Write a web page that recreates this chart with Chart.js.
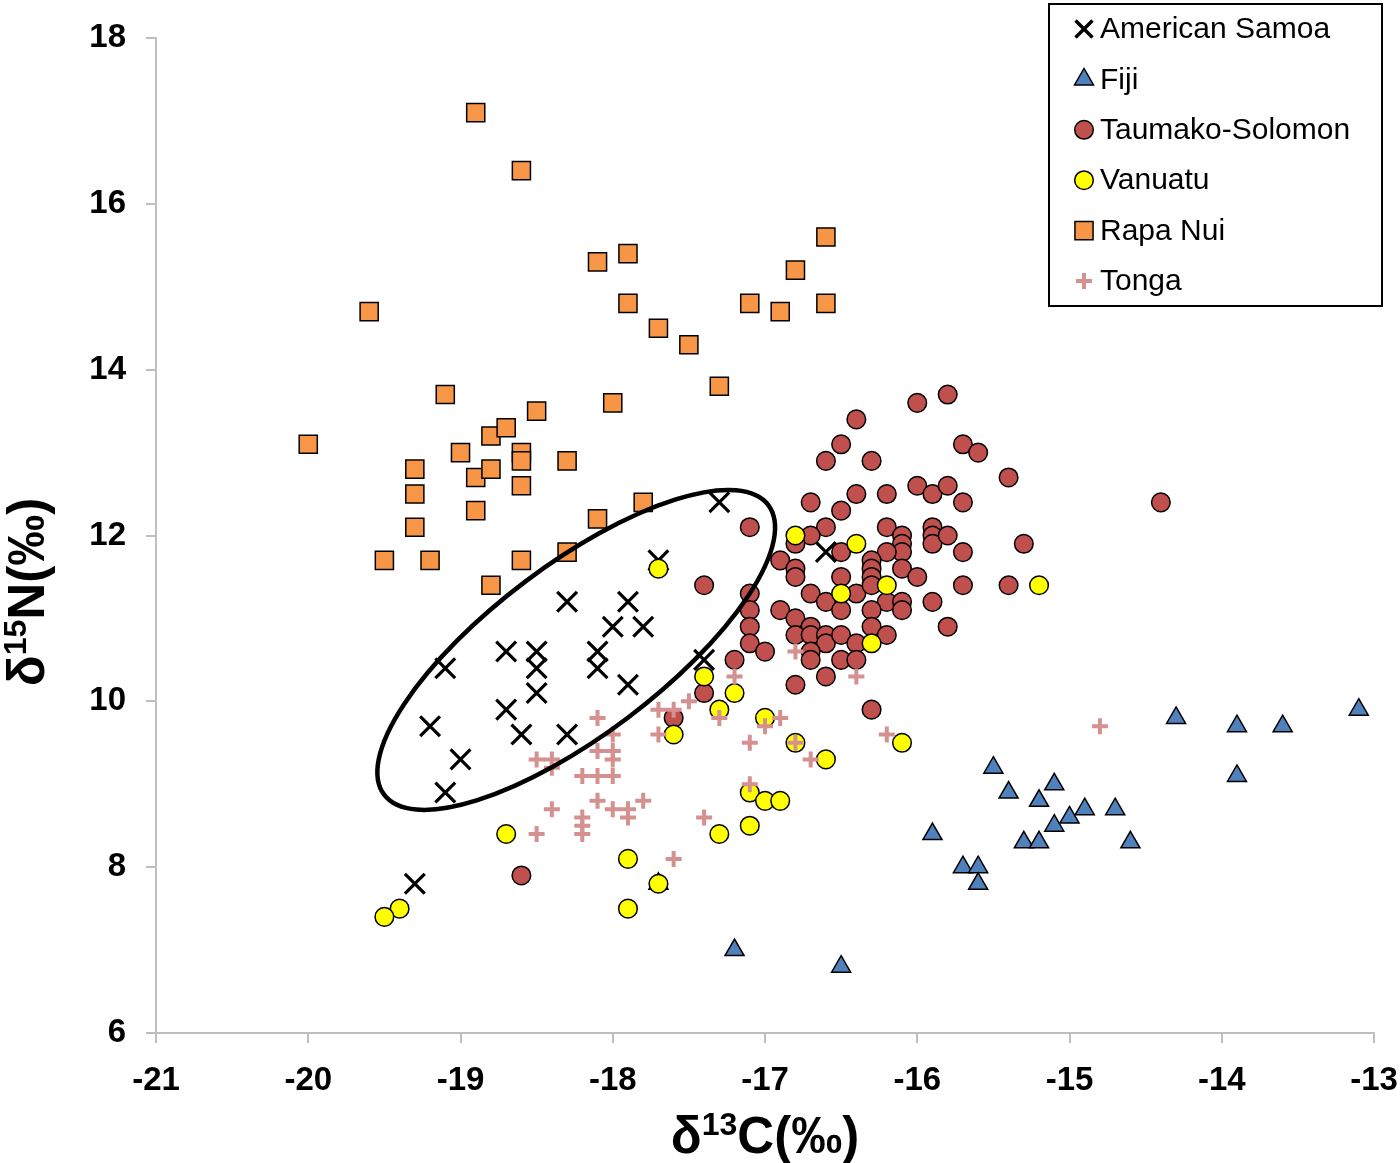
<!DOCTYPE html>
<html>
<head>
<meta charset="utf-8">
<script src="https://cdn.jsdelivr.net/npm/chart.js@4.4.1/dist/chart.umd.min.js"></script>
<style>
  html, body { margin: 0; padding: 0; background: #fff; }
</style>
</head>
<body>
<canvas id="chart" width="1400" height="1163"></canvas>
<script>
// series names, legend order
const seriesNames = ['American Samoa', 'Fiji', 'Taumako-Solomon', 'Vanuatu', 'Rapa Nui', 'Tonga'];

// [d13C, d15N]
const samoa = [[-17.3,12.4],[-17.7,11.7],[-16.6,11.8],[-18.3,11.2],[-17.9,11.2],[-18.0,10.9],[-17.8,10.9],
  [-18.7,10.6],[-18.5,10.6],[-18.5,10.4],[-18.1,10.6],[-18.1,10.4],[-19.1,10.4],[-17.4,10.5],[-18.5,10.1],
  [-17.9,10.2],[-18.7,9.9],[-19.2,9.7],[-18.6,9.6],[-18.3,9.6],[-19.0,9.3],[-19.1,8.9],[-19.3,7.8]];

const fiji = [[-14.3,9.8],[-13.9,9.7],[-13.6,9.7],[-13.1,9.9],[-13.9,9.1],[-15.5,9.2],[-15.4,8.9],[-15.1,9.0],
  [-15.2,8.8],[-14.9,8.7],[-15.0,8.6],[-14.7,8.7],[-15.1,8.5],[-15.3,8.3],[-15.2,8.3],[-14.6,8.3],[-15.9,8.4],
  [-15.7,8.0],[-15.6,8.0],[-15.6,7.8],[-17.2,7.0],[-16.5,6.8],[-17.7,7.8]];

const taumako = [[-15.8,13.7],[-16.0,13.6],[-16.4,13.4],[-16.5,13.1],[-15.7,13.1],[-15.6,13.0],[-16.6,12.9],
  [-16.3,12.9],[-15.4,12.7],[-16.0,12.6],[-15.9,12.5],[-15.8,12.6],[-16.4,12.5],[-16.2,12.5],[-16.7,12.4],
  [-15.7,12.4],[-16.5,12.3],[-17.1,12.1],[-16.6,12.1],[-16.2,12.1],[-16.1,12.0],[-15.9,12.1],[-15.9,12.0],
  [-15.9,11.9],[-15.8,12.0],[-16.7,12.0],[-16.8,11.9],[-16.1,11.9],[-16.1,11.8],[-16.5,11.8],[-16.2,11.8],
  [-15.7,11.8],[-15.3,11.9],[-16.9,11.7],[-16.3,11.7],[-16.3,11.6],[-16.8,11.6],[-16.8,11.5],[-16.1,11.6],
  [-16.0,11.5],[-16.5,11.5],[-16.3,11.5],[-15.7,11.4],[-15.4,11.4],[-16.4,11.3],[-16.7,11.3],[-16.3,11.4],
  [-17.4,11.4],[-17.1,11.3],[-16.6,11.2],[-16.5,11.1],[-16.2,11.2],[-16.1,11.2],[-16.1,11.1],[-15.9,11.2],
  [-17.1,11.1],[-16.9,11.1],[-16.3,11.1],[-16.8,11.0],[-17.1,10.9],[-16.7,10.9],[-16.8,10.8],[-16.7,10.8],
  [-16.6,10.8],[-16.6,10.7],[-16.5,10.8],[-16.4,10.7],[-16.3,10.9],[-16.2,10.8],[-15.8,10.9],[-17.1,10.7],
  [-17.0,10.6],[-16.7,10.6],[-16.7,10.5],[-16.5,10.5],[-16.4,10.5],[-17.2,10.5],[-16.6,10.3],[-16.8,10.2],
  [-17.4,10.1],[-16.3,9.9],[-17.6,9.8],[-14.4,12.4],[-18.6,7.9]];

const vanuatu = [[-16.8,12.0],[-16.4,11.9],[-16.5,11.3],[-16.2,11.4],[-16.3,10.7],[-15.2,11.4],[-17.7,11.6],
  [-17.4,10.3],[-17.6,9.6],[-17.2,10.1],[-17.3,9.9],[-17.0,9.8],[-16.8,9.5],[-16.6,9.3],[-16.1,9.5],
  [-17.1,8.9],[-17.0,8.8],[-16.9,8.8],[-17.1,8.5],[-17.3,8.4],[-17.9,8.1],[-17.7,7.8],[-18.7,8.4],
  [-17.9,7.5],[-19.4,7.5],[-19.5,7.4]];

const rapaNui = [[-18.9,17.1],[-18.6,16.4],[-19.6,14.7],[-20.0,13.1],[-18.1,15.3],[-17.9,15.4],[-17.9,14.8],
  [-17.7,14.5],[-17.5,14.3],[-17.3,13.8],[-17.1,14.8],[-16.9,14.7],[-16.8,15.2],[-16.6,15.6],[-16.6,14.8],
  [-19.1,13.7],[-19.3,12.8],[-19.3,12.5],[-19.3,12.1],[-19.5,11.7],[-19.2,11.7],[-19.0,13.0],[-18.9,12.7],
  [-18.9,12.3],[-18.8,13.2],[-18.8,12.8],[-18.7,13.3],[-18.8,11.4],[-18.5,13.5],[-18.6,13.0],[-18.6,12.9],
  [-18.6,12.6],[-18.6,11.7],[-18.3,12.9],[-18.3,11.8],[-18.1,12.2],[-18.0,13.6],[-17.8,12.4]];

const tonga = [[-18.1,9.8],[-18.0,9.6],[-18.5,9.3],[-18.4,9.3],[-18.4,9.2],[-18.1,9.4],[-18.0,9.4],[-18.0,9.3],
  [-18.2,9.1],[-18.1,9.1],[-18.0,9.1],[-18.1,8.8],[-18.0,8.7],[-17.9,8.7],[-17.9,8.6],[-17.8,8.8],[-18.4,8.7],
  [-18.2,8.6],[-18.2,8.5],[-18.2,8.4],[-18.5,8.4],[-17.6,8.1],[-17.7,9.6],[-17.6,9.9],[-17.7,9.9],[-17.5,10.0],
  [-17.4,8.6],[-17.3,9.8],[-17.0,9.7],[-16.9,9.8],[-17.1,9.5],[-16.8,9.5],[-16.2,9.6],[-16.7,9.3],[-17.1,9.0],
  [-16.8,10.6],[-17.2,10.3],[-16.4,10.3],[-14.8,9.7]];

const xTicks = [-21, -13, 1];   // min, max, step
const yTicks = [6, 18, 2];

// the hand-drawn ring: centre (data units), half-axes in x-units, tilt in degrees
const ring = { cx: -18.24, cy: 10.62, a: 1.58, b: 0.56, tilt: 37 };

const FONT = "'Liberation Sans', Arial, sans-serif";

const styles = [
  { pointStyle: 'crossRot', radius: 14, bg: '#000', border: '#000', bw: 3.2 },
  { pointStyle: 'triangle', radius: 11, bg: '#4F81BD', border: '#000', bw: 1.5 },
  { pointStyle: 'circle', radius: 9.3, bg: '#C0504D', border: '#000', bw: 1.5 },
  { pointStyle: 'circle', radius: 9.3, bg: '#FFFF00', border: '#000', bw: 1.5 },
  { pointStyle: 'rect', radius: 12.8, bg: '#F79646', border: '#000', bw: 1.5 },
  { pointStyle: 'cross', radius: 8, bg: '#D4918F', border: '#D4918F', bw: 4 }
];
const allData = [samoa, fiji, taumako, vanuatu, rapaNui, tonga];

const datasets = seriesNames.map((name, i) => ({
  label: name,
  data: allData[i].map(p => ({ x: p[0], y: p[1] })),
  pointStyle: styles[i].pointStyle,
  pointRadius: styles[i].radius,
  pointHoverRadius: styles[i].radius,
  backgroundColor: styles[i].bg,
  borderColor: styles[i].border,
  borderWidth: styles[i].bw,
  order: seriesNames.length - i   // later series sit on top, like the original
}));

function drawMarker(ctx, st, x, y) {
  const r = st.radius;
  ctx.save();
  ctx.fillStyle = st.bg;
  ctx.strokeStyle = st.border;
  ctx.lineWidth = st.bw;
  ctx.beginPath();
  if (st.pointStyle === 'circle') {
    ctx.arc(x, y, r, 0, Math.PI * 2);
    ctx.fill(); ctx.stroke();
  } else if (st.pointStyle === 'rect') {
    const s = r * Math.SQRT1_2;
    ctx.rect(x - s, y - s, 2 * s, 2 * s);
    ctx.fill(); ctx.stroke();
  } else if (st.pointStyle === 'triangle') {
    const w = r * Math.sin(Math.PI * 2 / 3);
    ctx.moveTo(x, y - r);
    ctx.lineTo(x + w, y + r / 2);
    ctx.lineTo(x - w, y + r / 2);
    ctx.closePath();
    ctx.fill(); ctx.stroke();
  } else if (st.pointStyle === 'crossRot') {
    const o = r * Math.SQRT1_2;
    ctx.moveTo(x - o, y - o); ctx.lineTo(x + o, y + o);
    ctx.moveTo(x - o, y + o); ctx.lineTo(x + o, y - o);
    ctx.stroke();
  } else {
    ctx.moveTo(x - r, y); ctx.lineTo(x + r, y);
    ctx.moveTo(x, y - r); ctx.lineTo(x, y + r);
    ctx.stroke();
  }
  ctx.restore();
}

// text with a raised part, e.g. δ + 15 + N(‰)
function supText(ctx, parts, x, y, size) {
  const big = `bold ${size}px ${FONT}`, small = `bold ${Math.round(size * 0.62)}px ${FONT}`;
  let w = 0;
  parts.forEach(p => { ctx.font = p[1] ? small : big; w += ctx.measureText(p[0]).width; });
  let cx = x - w / 2;
  ctx.textBaseline = 'alphabetic';
  ctx.textAlign = 'left';
  parts.forEach(p => {
    ctx.font = p[1] ? small : big;
    ctx.fillText(p[0], cx, p[1] ? y - size * 0.36 : y);
    cx += ctx.measureText(p[0]).width;
  });
}

const decorations = {
  id: 'decorations',
  afterDatasetsDraw(chart) {
    const ctx = chart.ctx, xs = chart.scales.x, ys = chart.scales.y;
    const unit = xs.getPixelForValue(-20) - xs.getPixelForValue(-21);
    ctx.save();
    ctx.lineWidth = 4.5;
    ctx.strokeStyle = '#000';
    ctx.beginPath();
    ctx.ellipse(xs.getPixelForValue(ring.cx), ys.getPixelForValue(ring.cy),
      ring.a * unit, ring.b * unit, -ring.tilt * Math.PI / 180, 0, Math.PI * 2);
    ctx.stroke();
    ctx.restore();
  },
  afterDraw(chart) {
    const ctx = chart.ctx, area = chart.chartArea;
    ctx.save();
    ctx.fillStyle = '#000';
    // axis titles
    supText(ctx, [['δ', false], ['13', true], ['C(‰)', false]], (area.left + area.right) / 2, 1153, 51);
    ctx.translate(44, 592);
    ctx.rotate(-Math.PI / 2);
    supText(ctx, [['δ', false], ['15', true], ['N(‰)', false]], 0, 0, 51);
    ctx.restore();

    // boxed legend, top right
    ctx.save();
    ctx.fillStyle = '#fff';
    ctx.fillRect(1049, 4, 333, 302);
    ctx.lineWidth = 2;
    ctx.strokeStyle = '#000';
    ctx.strokeRect(1049, 4, 333, 302);
    ctx.font = `30px ${FONT}`;
    ctx.fillStyle = '#000';
    ctx.textBaseline = 'middle';
    ctx.textAlign = 'left';
    seriesNames.forEach((name, i) => {
      const y = 29 + i * 50.4;
      const st = Object.assign({}, styles[i]);
      if (st.pointStyle === 'crossRot') { st.radius = 12; st.bw = 3.5; }
      drawMarker(ctx, st, 1084, y);
      ctx.fillText(name, 1100, y + 1);
    });
    ctx.restore();
  }
};

const axisLine = { display: true, color: '#BFBFBF', width: 2 };
const tickFont = { family: FONT, size: 33, weight: 'bold' };

new Chart(document.getElementById('chart'), {
  type: 'scatter',
  data: { datasets: datasets },
  plugins: [decorations],
  options: {
    responsive: false,
    animation: false,
    devicePixelRatio: 1,
    layout: { padding: { left: 0, right: 26, top: 38, bottom: 0 } },
    plugins: { legend: { display: false }, tooltip: { enabled: false } },
    scales: {
      x: {
        type: 'linear', min: xTicks[0], max: xTicks[1],
        border: axisLine,
        grid: { display: true, drawOnChartArea: false, drawTicks: true, tickLength: 10, color: '#BFBFBF', lineWidth: 2 },
        ticks: { stepSize: xTicks[2], color: '#000', font: tickFont, padding: 18, maxRotation: 0 },
        afterFit: s => { s.height = 130; s.paddingLeft = 0; s.paddingRight = 0; }
      },
      y: {
        type: 'linear', min: yTicks[0], max: yTicks[1],
        border: axisLine,
        grid: { display: true, drawOnChartArea: false, drawTicks: true, tickLength: 10, color: '#BFBFBF', lineWidth: 2 },
        ticks: { stepSize: yTicks[2], color: '#000', font: tickFont, padding: 20 },
        afterFit: s => { s.width = 156; s.paddingTop = 0; s.paddingBottom = 0; }
      }
    }
  }
});
</script>
</body>
</html>
